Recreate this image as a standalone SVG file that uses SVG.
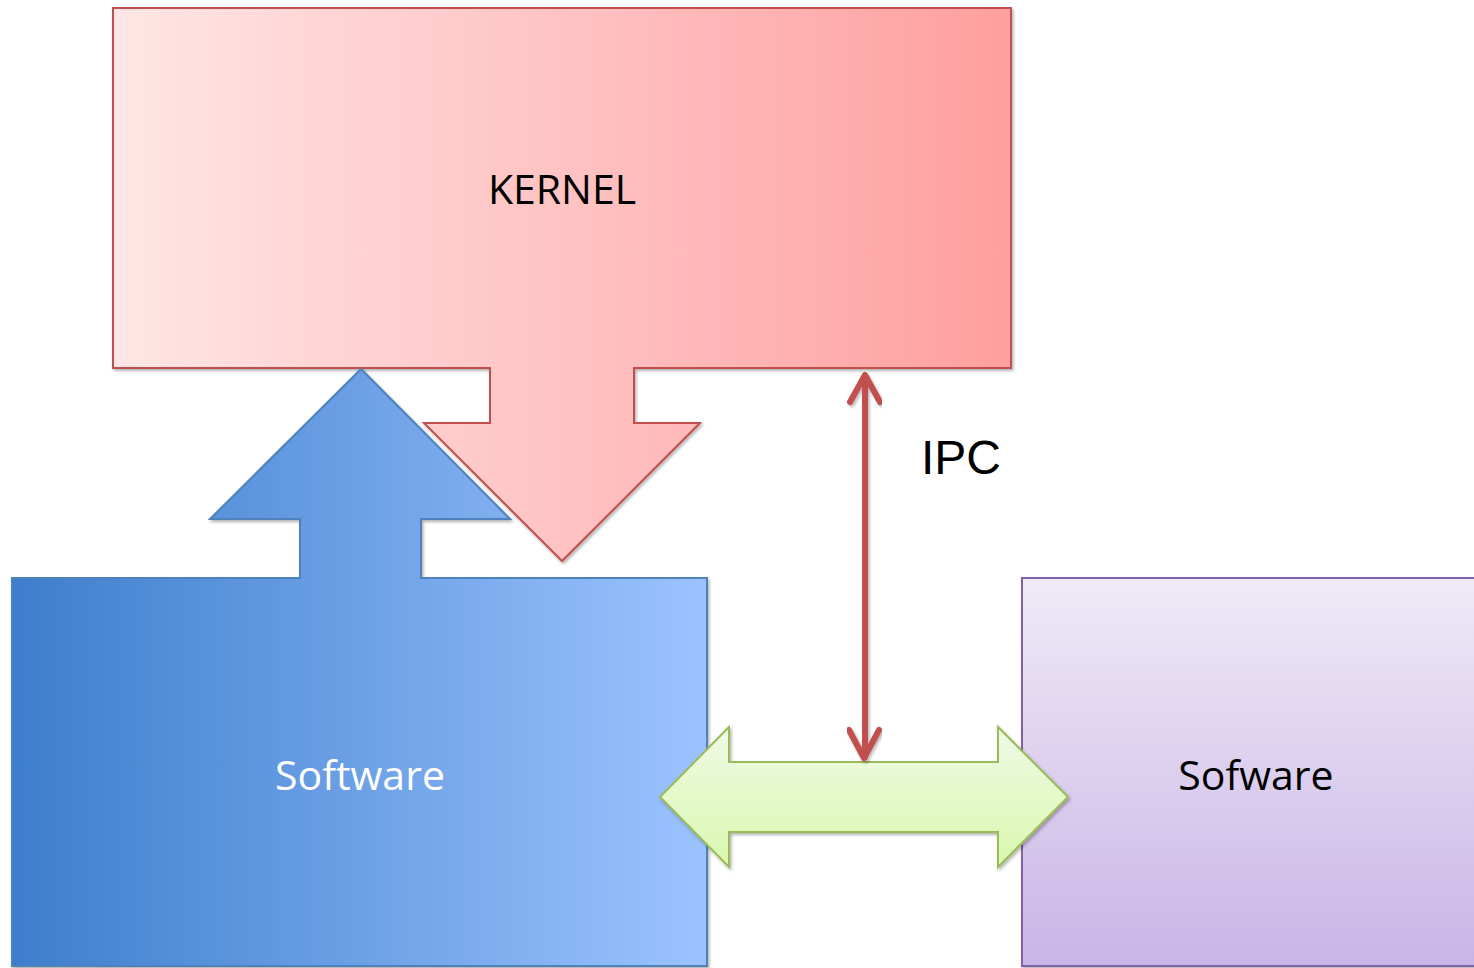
<svg xmlns="http://www.w3.org/2000/svg" width="1474" height="968" viewBox="0 0 1474 968">
  <defs>
    <linearGradient id="gKernel" gradientUnits="userSpaceOnUse" x1="113" y1="0" x2="1012" y2="0">
      <stop offset="0" stop-color="#FFE6E6"/>
      <stop offset="1" stop-color="#FF9F9F"/>
    </linearGradient>
    <linearGradient id="gBlue" gradientUnits="userSpaceOnUse" x1="12" y1="0" x2="708" y2="0">
      <stop offset="0" stop-color="#3D7ECC"/>
      <stop offset="1" stop-color="#9CC3FF"/>
    </linearGradient>
    <linearGradient id="gPurple" x1="0" y1="0" x2="0" y2="1">
      <stop offset="0" stop-color="#EFEAF7"/>
      <stop offset="1" stop-color="#C9B5E6"/>
    </linearGradient>
    <linearGradient id="gGreen" x1="0" y1="0" x2="0" y2="1">
      <stop offset="0" stop-color="#F0F9E6"/>
      <stop offset="1" stop-color="#D9F8AE"/>
    </linearGradient>
    <filter id="shadow" x="-5%" y="-5%" width="110%" height="110%">
      <feDropShadow dx="1.5" dy="2" stdDeviation="1.5" flood-color="#000" flood-opacity="0.3"/>
    </filter>
  </defs>
  <style>
    .shape { stroke-width: 2; stroke-linejoin: miter; filter: url(#shadow); }
    .lbl { font-family: "Open Sans", "Liberation Sans", sans-serif; font-size: 41px; text-anchor: middle; }
    .ipc { stroke: #C0504D; stroke-width: 6; fill: none; stroke-linecap: round; stroke-linejoin: round; }
  </style>
  <rect width="1474" height="968" fill="#FFFFFF"/>

  <g id="kernel">
    <path class="shape" fill="url(#gKernel)" stroke="#C0504D" d="M113,8 H1011 V368 H634 V423 H700 L562,561 L424,423 H490 V368 H113 Z"/>
    <text class="lbl" x="562" y="204" fill="#000000">KERNEL</text>
  </g>

  <g id="software">
    <path class="shape" fill="url(#gBlue)" stroke="#4F81BD" d="M12,578 H300 V519 H210 L361,369 L510,519 H421 V578 H707 V966 H12 Z"/>
    <text class="lbl" x="360" y="790" fill="#FFFFFF">Software</text>
  </g>

  <g id="sofware">
    <rect class="shape" x="1022" y="578" width="470" height="388" fill="url(#gPurple)" stroke="#8064A2"/>
    <text class="lbl" x="1256" y="790" fill="#000000">Sofware</text>
  </g>

  <g id="connectors">
    <path class="shape" fill="url(#gGreen)" stroke="#9BBB59" d="M660,797 L729,727 V762 H998 V727 L1068,797 L998,867 V832 H729 V867 Z"/>
    <g filter="url(#shadow)">
      <line class="ipc" x1="865" y1="376" x2="865" y2="757"/>
      <path class="ipc" d="M850,402 L865,375 L880,402"/>
      <path class="ipc" d="M849,730 L864,758 L879,730"/>
    </g>
    <text x="961" y="474" font-family="'Liberation Sans', Arial, sans-serif" font-size="48" text-anchor="middle" fill="#000000">IPC</text>
  </g>
</svg>
